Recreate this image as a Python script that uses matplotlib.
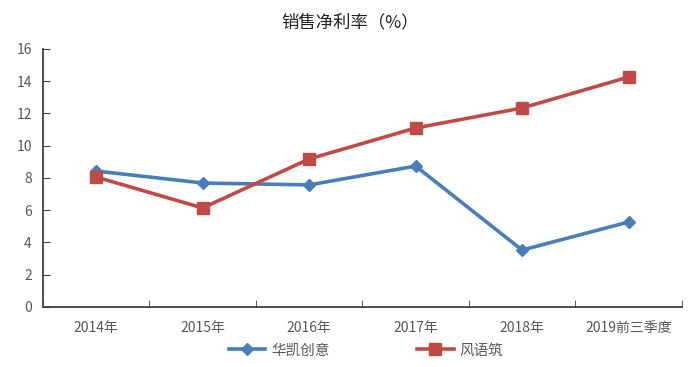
import matplotlib.pyplot as plt
from matplotlib.lines import Line2D

plt.rcParams["font.family"] = ["Noto Sans CJK SC", "DejaVu Sans"]

years = ["2014年", "2015年", "2016年", "2017年", "2018年", "2019前三季度"]
huakai = [8.43, 7.69, 7.57, 8.74, 3.53, 5.27]
fengyu = [8.06, 6.14, 9.18, 11.10, 12.34, 14.26]
yticks = [0, 2, 4, 6, 8, 10, 12, 14, 16]

blue = "#4A7EBB"
red = "#BE4B48"
grey = "#595959"

fig = plt.figure(figsize=(7.0, 3.67), dpi=100)

ax = fig.add_axes([0.0614, 0.1635, 0.9126, 0.703])
x = list(range(len(years)))
ax.plot(x, huakai, color=blue, lw=2.6, marker="D", ms=6.5, label="华凯创意", zorder=3)
ax.plot(x, fengyu, color=red, lw=2.6, marker="s", ms=8, label="风语筑", zorder=3)

ax.set_xlim(-0.5, len(years) - 0.5)
ax.set_ylim(0, 16)
ax.set_yticks(yticks)
ax.set_xticks(x)
ax.set_xticklabels(years)
ax.set_xticks([i - 0.5 for i in range(len(years) + 1)], minor=True)
ax.tick_params(axis="x", which="major", length=0, pad=10, labelsize=10, labelcolor=grey)
ax.tick_params(axis="x", which="minor", direction="in", length=5, color="#404040")
ax.tick_params(axis="y", direction="in", length=5, color="#404040", labelsize=10,
               labelcolor=grey, pad=8)
for s in ("top", "right"):
    ax.spines[s].set_visible(False)
for s in ("left", "bottom"):
    ax.spines[s].set_color("#404040")
    ax.spines[s].set_linewidth(1.3)

fig.text(0.5, 0.94, "销售净利率（%）", ha="center", va="center", fontsize=12.5, color="#222222")

handles = [Line2D([], [], color=blue, lw=2.6, marker="D", ms=6.5),
           Line2D([], [], color=red, lw=2.6, marker="s", ms=8)]
fig.legend(handles, ["华凯创意", "风语筑"], loc="center", bbox_to_anchor=(0.523, 0.045),
           ncol=2, frameon=False, fontsize=10.5, handlelength=2.5, handletextpad=0.4,
           columnspacing=6, labelcolor=grey)

fig.savefig("out.png", dpi=100)
